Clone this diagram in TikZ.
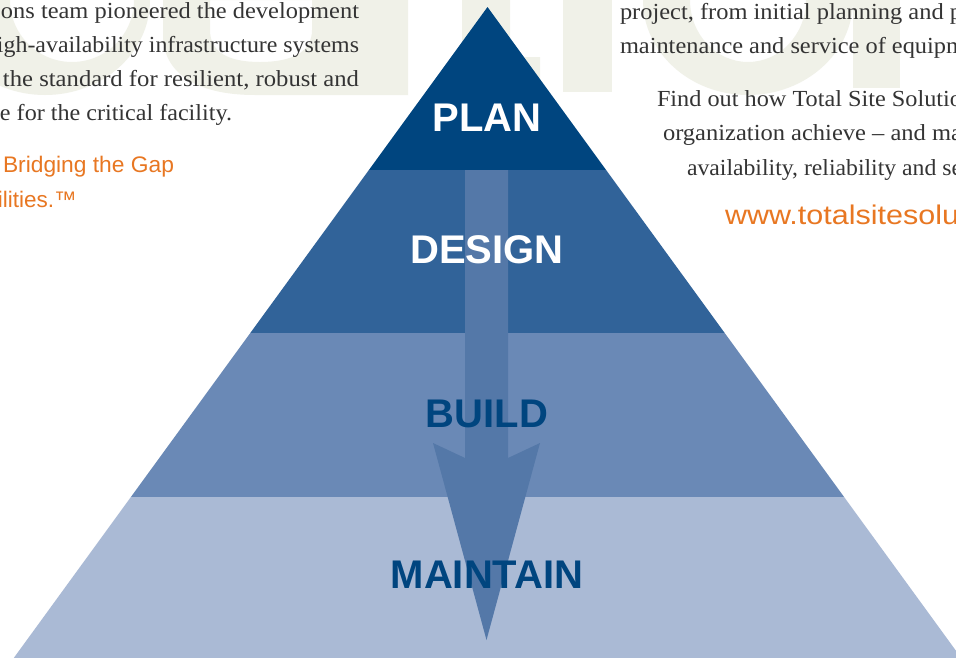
\documentclass[tikz,border=0pt]{standalone}
\usepackage{fontspec}
\usepackage{graphicx}
\setmainfont{Liberation Serif}
\newfontfamily\arialf{Liberation Sans}
\definecolor{planblue}{RGB}{0,69,127}
\definecolor{designblue}{RGB}{49,99,153}
\definecolor{buildblue}{RGB}{106,137,182}
\definecolor{maintblue}{RGB}{170,186,213}
\definecolor{arrowblue}{RGB}{84,120,168}
\definecolor{wmbeige}{RGB}{240,241,232}
\definecolor{bodygray}{RGB}{52,52,52}
\definecolor{tssorange}{RGB}{232,119,34}
\newcommand\fitline[2]{\resizebox{#1}{\height}{#2}}
\begin{document}
\begin{tikzpicture}[x=1pt,y=-1pt,
  body/.style={anchor=base west, inner sep=0pt, outer sep=0pt, text=bodygray, font=\fontsize{23}{28}\selectfont},
  orangetxt/.style={anchor=base west, inner sep=0pt, outer sep=0pt, text=tssorange, font=\arialf\fontsize{22.5}{27}\selectfont},
  lbl/.style={anchor=base, inner sep=0pt, outer sep=0pt, font=\arialf\bfseries\fontsize{40}{45}\selectfont},
  wm/.style={fill=wmbeige, draw=none}]
\path[use as bounding box] (0,0) rectangle (956,657);
\clip (0,0) rectangle (956,657);
\fill[white] (0,0) rectangle (956,657);
% watermark letters
\fill[wm, even odd rule] (45,0) ellipse [x radius=105, y radius=95] (72,0) ellipse [x radius=62, y radius=62];
\fill[wm, even odd rule] (163,0) -- (163,35) .. controls (163,72) and (195,95) .. (255,95) -- (408,95) -- (408,0) -- cycle
  (210,0) -- (210,30) .. controls (210,52) and (228,62) .. (260,62) .. controls (292,62) and (312,52) .. (312,30) -- (312,0) -- cycle;
\fill[wm] (462,0) -- (462,55) .. controls (462,82) and (482,95) .. (515,95) -- (540,95) -- (540,57) -- (522,57) .. controls (513,57) and (510,50) .. (510,42) -- (510,0) -- cycle;
\fill[wm] (563,0) rectangle (612,92);
\fill[wm, even odd rule] (748,0) ellipse [x radius=105, y radius=95] (748,0) ellipse [x radius=58, y radius=62];
\fill[wm] (853,0) rectangle (900,88);
% left column
\node[body] (l1) at (1,18) {\fitline{358pt}{ons team pioneered the development}};
\node[body] (l2) at (-3,52) {\fitline{362pt}{igh-availability infrastructure systems}};
\node[body] (l3) at (3,86) {\fitline{356pt}{the standard for resilient, robust and}};
\node[body] (l4) at (0,120) {\fitline{232pt}{e for the critical facility.}};
\node[orangetxt] (o1) at (3,172) {\fitline{171pt}{Bridging the Gap}};
\node[orangetxt] (o2) at (-2,207) {ilities.™};
% right column
\node[body] (r1) at (620,19) {\fitline{342pt}{project, from initial planning and p}};
\node[body] (r2) at (620,53) {\fitline{345pt}{maintenance and service of equipm}};
\node[body] (r3) at (657,106) {\fitline{305pt}{Find out how Total Site Solutio}};
\node[body] (r4) at (663,140) {\fitline{299pt}{organization achieve – and ma}};
\node[body] (r5) at (687,175) {\fitline{275pt}{availability, reliability and se}};
\node[orangetxt, font=\arialf\fontsize{27}{30}\selectfont] (url) at (725,224) {\fitline{234pt}{www.totalsitesolu}};
% pyramid
\fill[planblue] (487.5,7) -- (606.1,170) -- (368.9,170) -- cycle;
\fill[designblue] (368.9,170) -- (606.1,170) -- (724.7,333) -- (250.3,333) -- cycle;
\fill[buildblue] (250.3,333) -- (724.7,333) -- (844.1,497) -- (130.9,497) -- cycle;
\fill[maintblue] (130.9,497) -- (844.1,497) -- (962.7,660) -- (12.3,660) -- cycle;
% arrow
\fill[arrowblue] (465,170) -- (508,170) -- (508,458) -- (540,443) -- (486.5,640) -- (433,443) -- (465,458) -- cycle;
% labels
\node[lbl, text=white] (plan) at (487,131) {PLAN};
\node[lbl, text=white] (design) at (487,263) {DESIGN};
\node[lbl, text=planblue] (build) at (487,427) {BUILD};
\node[lbl, text=planblue] (maintain) at (487,588) {MAINTAIN};
\end{tikzpicture}
\end{document}
